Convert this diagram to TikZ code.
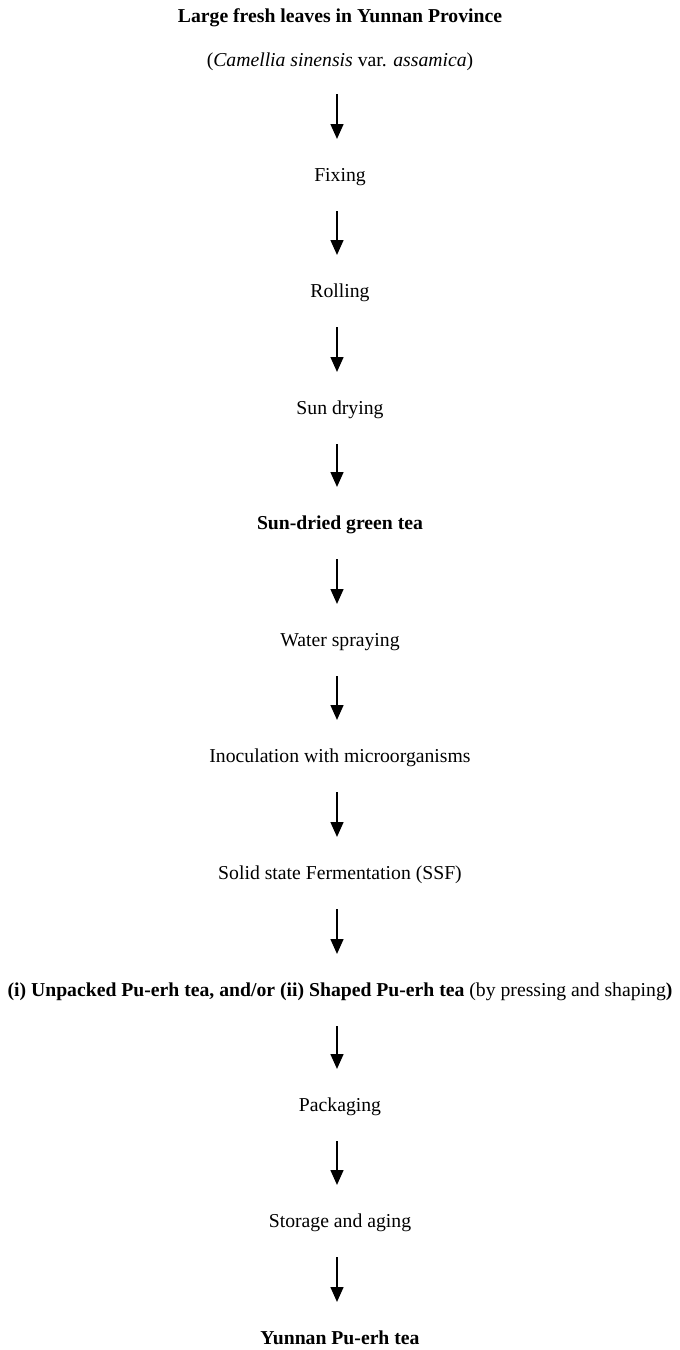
\documentclass[tikz,border=0pt]{standalone}
\usepackage{fontspec}
\setmainfont{Liberation Serif}
\usetikzlibrary{arrows.meta}
\begin{document}
\begin{tikzpicture}[x=1pt,y=1pt,
  lbl/.style={inner sep=0pt, text height=6.8pt, text depth=2.2pt, font=\fontsize{9.85}{12}\selectfont},
  flow/.style={line width=1.05pt, -{Triangle[width=6.4pt,length=7.5pt]}, shorten <=17pt, shorten >=19pt}]
\useasboundingbox (0,0) rectangle (340,-675);
\node[lbl] (title) at (170,-9) {\textbf{Large fresh leaves in Yunnan Province}};
\node[lbl] (sub) at (170,-31) {(\textit{Camellia sinensis} var. \textit{assamica})};
\node[lbl] (fix) at (170,-88.5) {Fixing};
\node[lbl] (roll) at (170,-146.5) {Rolling};
\node[lbl] (sun) at (170,-205) {Sun drying};
\node[lbl] (green) at (170,-262.5) {\textbf{Sun-dried green tea}};
\node[lbl] (water) at (170,-321) {Water spraying};
\node[lbl] (inoc) at (170,-379) {Inoculation with microorganisms};
\node[lbl] (ssf) at (170,-437.5) {Solid state Fermentation (SSF)};
\node[lbl] (pu) at (170,-496) {\textbf{(i) Unpacked Pu-erh tea, and/or (ii) Shaped Pu-erh tea} (by pressing and shaping\textbf{)}};
\node[lbl] (pack) at (170,-553.5) {Packaging};
\node[lbl] (store) at (170,-611.5) {Storage and aging};
\node[lbl] (final) at (170,-670) {\textbf{Yunnan Pu-erh tea}};
\draw[flow, shorten <=16pt] ([xshift=-1.5pt]sub.center) -- ([xshift=-1.5pt]fix.center);
\draw[flow] ([xshift=-1.5pt]fix.center) -- ([xshift=-1.5pt]roll.center);
\draw[flow] ([xshift=-1.5pt]roll.center) -- ([xshift=-1.5pt]sun.center);
\draw[flow] ([xshift=-1.5pt]sun.center) -- ([xshift=-1.5pt]green.center);
\draw[flow] ([xshift=-1.5pt]green.center) -- ([xshift=-1.5pt]water.center);
\draw[flow] ([xshift=-1.5pt]water.center) -- ([xshift=-1.5pt]inoc.center);
\draw[flow] ([xshift=-1.5pt]inoc.center) -- ([xshift=-1.5pt]ssf.center);
\draw[flow] ([xshift=-1.5pt]ssf.center) -- ([xshift=-1.5pt]pu.center);
\draw[flow] ([xshift=-1.5pt]pu.center) -- ([xshift=-1.5pt]pack.center);
\draw[flow] ([xshift=-1.5pt]pack.center) -- ([xshift=-1.5pt]store.center);
\draw[flow] ([xshift=-1.5pt]store.center) -- ([xshift=-1.5pt]final.center);
\end{tikzpicture}
\end{document}
